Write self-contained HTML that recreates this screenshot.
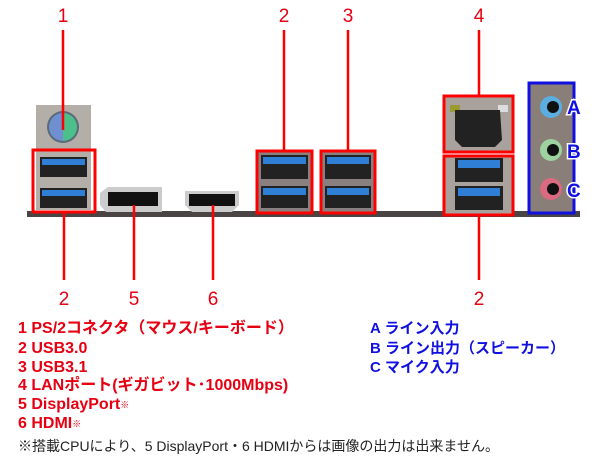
<!DOCTYPE html>
<html><head><meta charset="utf-8"><style>
html,body{margin:0;padding:0;background:#fff;}
body{width:600px;height:460px;position:relative;overflow:hidden;font-family:"Liberation Sans","Noto Sans CJK JP",sans-serif;}
.t{position:absolute;font-weight:bold;font-size:15px;line-height:18px;white-space:nowrap;}
.r{color:#e60012;left:18px;font-size:16px;}
.b{color:#1010e0;left:370px;}
</style></head><body>
<svg width="600" height="460" style="position:absolute;left:0;top:0" font-family="Liberation Sans, sans-serif">
<rect x="27" y="211" width="553" height="6" fill="#4a4444"/>
<rect x="36" y="105" width="55" height="105" fill="#b4aea8"/>
<circle cx="63" cy="127" r="16" fill="#5a6a7a"/>
<path d="M63 113 A14 14 0 0 0 63 141 Z" fill="#6f8fd0"/>
<path d="M63 113 A14 14 0 0 1 63 141 Z" fill="#4cc08a"/>
<rect x="40" y="157" width="47" height="20" fill="#222"/><rect x="42" y="159" width="43" height="6" fill="#2f7fd6"/>
<rect x="40" y="188" width="47" height="20" fill="#222"/><rect x="42" y="190" width="43" height="6" fill="#2f7fd6"/>
<path d="M100 193 L108 187 L162 187 L162 212 L106 212 L100 205 Z" fill="#ccc"/>
<rect x="108" y="192" width="50" height="14" fill="#111"/>
<path d="M185 191 L239 191 L239 205 L232 212 L192 212 L185 205 Z" fill="#ccc"/>
<rect x="189" y="194" width="46" height="12" fill="#111"/>
<rect x="257" y="151" width="55" height="62" fill="#8a8080"/>
<rect x="261" y="155" width="47" height="24" fill="#222"/><rect x="263" y="157" width="43" height="7" fill="#2f7fd6"/>
<rect x="261" y="186" width="47" height="22" fill="#222"/><rect x="263" y="188" width="43" height="7" fill="#2f7fd6"/>
<rect x="321" y="151" width="54" height="62" fill="#8a8080"/>
<rect x="325" y="155" width="46" height="24" fill="#222"/><rect x="327" y="157" width="42" height="7" fill="#2f7fd6"/>
<rect x="325" y="186" width="46" height="22" fill="#222"/><rect x="327" y="188" width="42" height="7" fill="#2f7fd6"/>
<rect x="444" y="96" width="69" height="56" fill="#a9a29c"/>
<rect x="450" y="105" width="10" height="7" fill="#9a9a30"/><rect x="498" y="105" width="10" height="7" fill="#ddd"/>
<path d="M455 110 L500 110 L502 140 L495 147 L462 147 L455 140 Z" fill="#222"/>
<rect x="444" y="156" width="69" height="59" fill="#a9a29c"/>
<rect x="455" y="158" width="48" height="24" fill="#222"/><rect x="458" y="160" width="42" height="8" fill="#2f7fd6"/>
<rect x="455" y="186" width="48" height="24" fill="#222"/><rect x="458" y="188" width="42" height="8" fill="#2f7fd6"/>
<rect x="529" y="83" width="45" height="130" fill="#8a7e78"/>
<circle cx="551" cy="107" r="11" fill="#5aaee0"/><circle cx="553" cy="107" r="6" fill="#111"/>
<circle cx="551" cy="150" r="11" fill="#9ed2a0"/><circle cx="553" cy="150" r="6" fill="#111"/>
<circle cx="551" cy="189" r="11" fill="#d96a80"/><circle cx="553" cy="189" r="6" fill="#111"/>
<rect x="529" y="83" width="45" height="130" fill="none" stroke="#1010e0" stroke-width="3"/>
<g font-weight="bold" font-size="19" fill="#1010e0" stroke="#fff" stroke-width="3" paint-order="stroke">
<text x="567" y="114">A</text><text x="567" y="158">B</text><text x="567" y="197">C</text></g>
<g fill="none" stroke="#f00" stroke-width="3">
<rect x="33" y="150" width="62" height="62"/>
<rect x="257" y="151" width="55" height="62"/>
<rect x="321" y="151" width="54" height="62"/>
<rect x="444" y="96" width="69" height="56"/>
<rect x="444" y="156" width="69" height="59"/>
</g>
<g stroke="#f00" stroke-width="2.5">
<line x1="63" y1="30" x2="63" y2="130"/>
<line x1="284" y1="30" x2="284" y2="151"/>
<line x1="348" y1="30" x2="348" y2="151"/>
<line x1="479" y1="30" x2="479" y2="96"/>
<line x1="64" y1="213" x2="64" y2="280"/>
<line x1="134" y1="205" x2="134" y2="280"/>
<line x1="213" y1="205" x2="213" y2="280"/>
<line x1="479" y1="215" x2="479" y2="280"/>
</g>
<g font-size="19" fill="#e60012" text-anchor="middle">
<text x="63" y="22">1</text><text x="284" y="22">2</text><text x="348" y="22">3</text><text x="479" y="22">4</text>
<text x="64" y="305">2</text><text x="134" y="305">5</text><text x="213" y="305">6</text><text x="479" y="305">2</text>
</g>
</svg>
<div class="t r" style="top:320px">1 PS/2コネクタ（マウス/キーボード）</div>
<div class="t r" style="top:340px">2 USB3.0</div>
<div class="t r" style="top:359px">3 USB3.1</div>
<div class="t r" style="top:377px">4 LANポート(ギガビット･1000Mbps)</div>
<div class="t r" style="top:396px">5 DisplayPort<span style="font-size:9px;vertical-align:top">※</span></div>
<div class="t r" style="top:415px">6 HDMI<span style="font-size:9px;vertical-align:top">※</span></div>
<div class="t b" style="top:320px">A ライン入力</div>
<div class="t b" style="top:340px">B ライン出力（スピーカー）</div>
<div class="t b" style="top:359px">C マイク入力</div>
<div class="t" style="left:18px;top:437px;font-weight:normal;font-size:14px;color:#222">※搭載CPUにより、5 DisplayPort・6 HDMIからは画像の出力は出来ません。</div>
</body></html>
